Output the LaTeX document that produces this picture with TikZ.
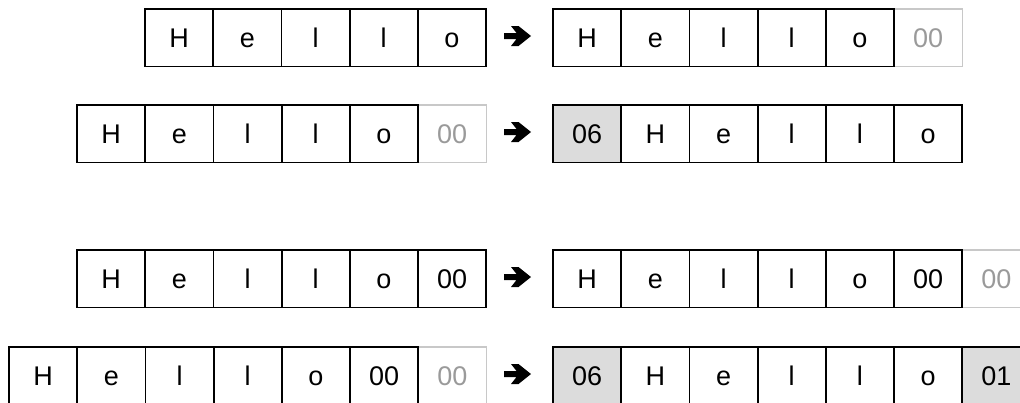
\documentclass[tikz,border=0pt]{standalone}
\usepackage{fontspec}
\setmainfont{Liberation Sans}
\definecolor{grayline}{HTML}{C8C8C8}
\definecolor{graytext}{HTML}{9A9A9A}
\definecolor{grayfill}{HTML}{DCDCDC}
\tikzset{
  cell/.style={draw=black,line width=1.8pt,minimum width=68.2pt,minimum height=57.5pt,
    inner sep=0pt,outer sep=0pt,anchor=north west,font=\fontsize{27}{30}\selectfont,
    text height=19.3pt,text depth=0pt},
  ghost/.style={cell,draw=grayline,line width=1.3pt,text=graytext},
  shaded/.style={cell,fill=grayfill},
  bigarrow/.pic={\fill[black] (0,-3)--(12.5,-3)--(7,-10)--(14.5,-10)--(27,0)--(14.5,10)--(7,10)--(12.5,3)--(0,3)--cycle;}
}
\begin{document}
\begin{tikzpicture}[x=1pt,y=-1pt]
\useasboundingbox (0,0) rectangle (1020,402);
% ---------- row 1 ----------
\foreach \t [count=\i from 0] in {H,e,l,l,o}
  \node[cell] (r1L\i) at ({145+68.2*\i},9) {\t};
\node[ghost] (r1R5) at ({553+68.2*5},9) {00};
\foreach \t [count=\i from 0] in {H,e,l,l,o}
  \node[cell] (r1R\i) at ({553+68.2*\i},9) {\t};
\pic at (504,36) {bigarrow};
% ---------- row 2 ----------
\node[ghost] (r2L5) at ({77+68.2*5},105) {00};
\foreach \t [count=\i from 0] in {H,e,l,l,o}
  \node[cell] (r2L\i) at ({77+68.2*\i},105) {\t};
\node[shaded] (r2R0) at (553,105) {06};
\foreach \t [count=\i from 1] in {H,e,l,l,o}
  \node[cell] (r2R\i) at ({553+68.2*\i},105) {\t};
\pic at (504,132) {bigarrow};
% ---------- row 3 ----------
\foreach \t [count=\i from 0] in {H,e,l,l,o,00}
  \node[cell] (r3L\i) at ({77+68.2*\i},250) {\t};
\node[ghost] (r3R6) at ({553+68.2*6},250) {00};
\foreach \t [count=\i from 0] in {H,e,l,l,o,00}
  \node[cell] (r3R\i) at ({553+68.2*\i},250) {\t};
\pic at (504,277) {bigarrow};
% ---------- row 4 ----------
\node[ghost] (r4L6) at ({9+68.2*6},347) {00};
\foreach \t [count=\i from 0] in {H,e,l,l,o,00}
  \node[cell] (r4L\i) at ({9+68.2*\i},347) {\t};
\node[shaded] (r4R0) at (553,347) {06};
\foreach \t [count=\i from 1] in {H,e,l,l,o}
  \node[cell] (r4R\i) at ({553+68.2*\i},347) {\t};
\node[shaded] (r4R6) at ({553+68.2*6},347) {01};
\pic at (504,374) {bigarrow};
\end{tikzpicture}
\end{document}
